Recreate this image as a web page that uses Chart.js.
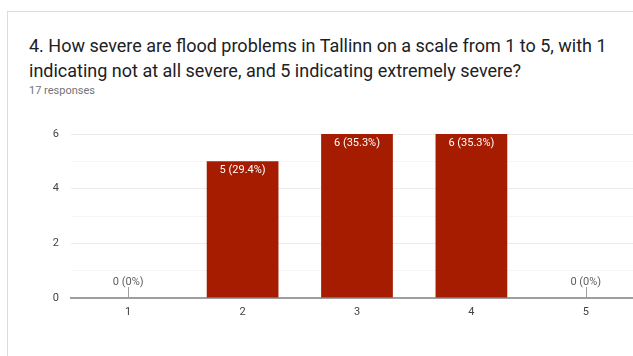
<!DOCTYPE html>
<html>
<head>
<meta charset="utf-8">
<script src="https://cdn.jsdelivr.net/npm/chart.js@4"></script>
<style>
  html, body { margin: 0; padding: 0; background: #fff; overflow: hidden; width: 633px; height: 356px; }
  .card {
    position: absolute; left: 7px; top: 11px; width: 700px; height: 400px;
    border: 1px solid #dadce0; box-sizing: border-box;
  }
  .title {
    position: absolute; left: 29px; top: 33px; width: 600px;
    font-family: Roboto, sans-serif; font-size: 18px; line-height: 25px; color: #202124;
  }
  .count {
    position: absolute; left: 29px; top: 84px;
    font-family: Roboto, sans-serif; font-size: 11px; color: #70757a;
  }
  .wrap { position: absolute; left: 0; top: 120px; width: 660px; height: 236px; }
</style>
</head>
<body>
<div class="card"></div>
<div class="title">4. How severe are flood problems in Tallinn on a scale from 1 to 5, with 1 indicating not at all severe, and 5 indicating extremely severe?</div>
<div class="count">17 responses</div>
<div class="wrap"><canvas id="chart" width="660" height="236"></canvas></div>

<script>
const categories = ["1", "2", "3", "4", "5"];
const responses  = [0, 5, 6, 6, 0];
const yTicks     = [0, 2, 4, 6];

const total = responses.reduce((s, v) => s + v, 0);

function pctLabel(v) {
  const p = (v / total * 100).toFixed(1).replace(/\.0$/, "");
  return `${v} (${p}%)`;
}

// Value labels: white inside the bar top, or grey with a small stem for empty bars
const barLabels = {
  id: "barLabels",
  afterDatasetsDraw(chart) {
    const ctx  = chart.ctx;
    const meta = chart.getDatasetMeta(0);
    ctx.save();
    ctx.font = "11px Roboto, sans-serif";
    ctx.textAlign = "center";
    ctx.textBaseline = "middle";
    meta.data.forEach((bar, i) => {
      const v = responses[i];
      if (v === 0) {
        ctx.strokeStyle = "#9e9e9e";
        ctx.lineWidth = 1;
        ctx.beginPath();
        ctx.moveTo(Math.round(bar.x) + 0.5, bar.base);
        ctx.lineTo(Math.round(bar.x) + 0.5, bar.base - 11);
        ctx.stroke();
        ctx.fillStyle = "#5f5f5f";
        ctx.fillText(pctLabel(v), bar.x, bar.base - 16);
      } else {
        ctx.fillStyle = "#ffffff";
        ctx.fillText(pctLabel(v), bar.x, bar.y + 9);
      }
    });
    ctx.restore();
  }
};

new Chart(document.getElementById("chart"), {
  type: "bar",
  data: {
    labels: categories,
    datasets: [{
      data: responses,
      backgroundColor: "#a61c00",
      borderWidth: 0,
      categoryPercentage: 1,
      barPercentage: 0.627
    }]
  },
  options: {
    responsive: false,
    animation: false,
    events: [],
    layout: { padding: { top: 14, right: 17, left: 0, bottom: 0 } },
    plugins: { legend: { display: false }, tooltip: { enabled: false } },
    scales: {
      x: {
        grid: { display: false, drawTicks: false },
        border: { color: "#9e9e9e", width: 2 },
        ticks: { color: "#444", font: { family: "Roboto", size: 11 }, padding: 8 },
        afterFit: s => { s.height = 58; }
      },
      y: {
        min: 0,
        max: 6,
        border: { display: false },
        grid: {
          drawTicks: false,
          color: c => c.tick.value === 0 ? "rgba(0,0,0,0)" : (c.tick.value % 2 === 0 ? "#ebebeb" : "#f5f5f5")
        },
        ticks: {
          stepSize: 1,
          color: "#444",
          font: { family: "Roboto", size: 11 },
          padding: 12,
          callback: v => yTicks.includes(v) ? String(v) : ""
        },
        afterFit: s => { s.width = 71; s.paddingTop = 0; s.paddingBottom = 0; }
      }
    }
  },
  plugins: [barLabels]
});
</script>
</body>
</html>
